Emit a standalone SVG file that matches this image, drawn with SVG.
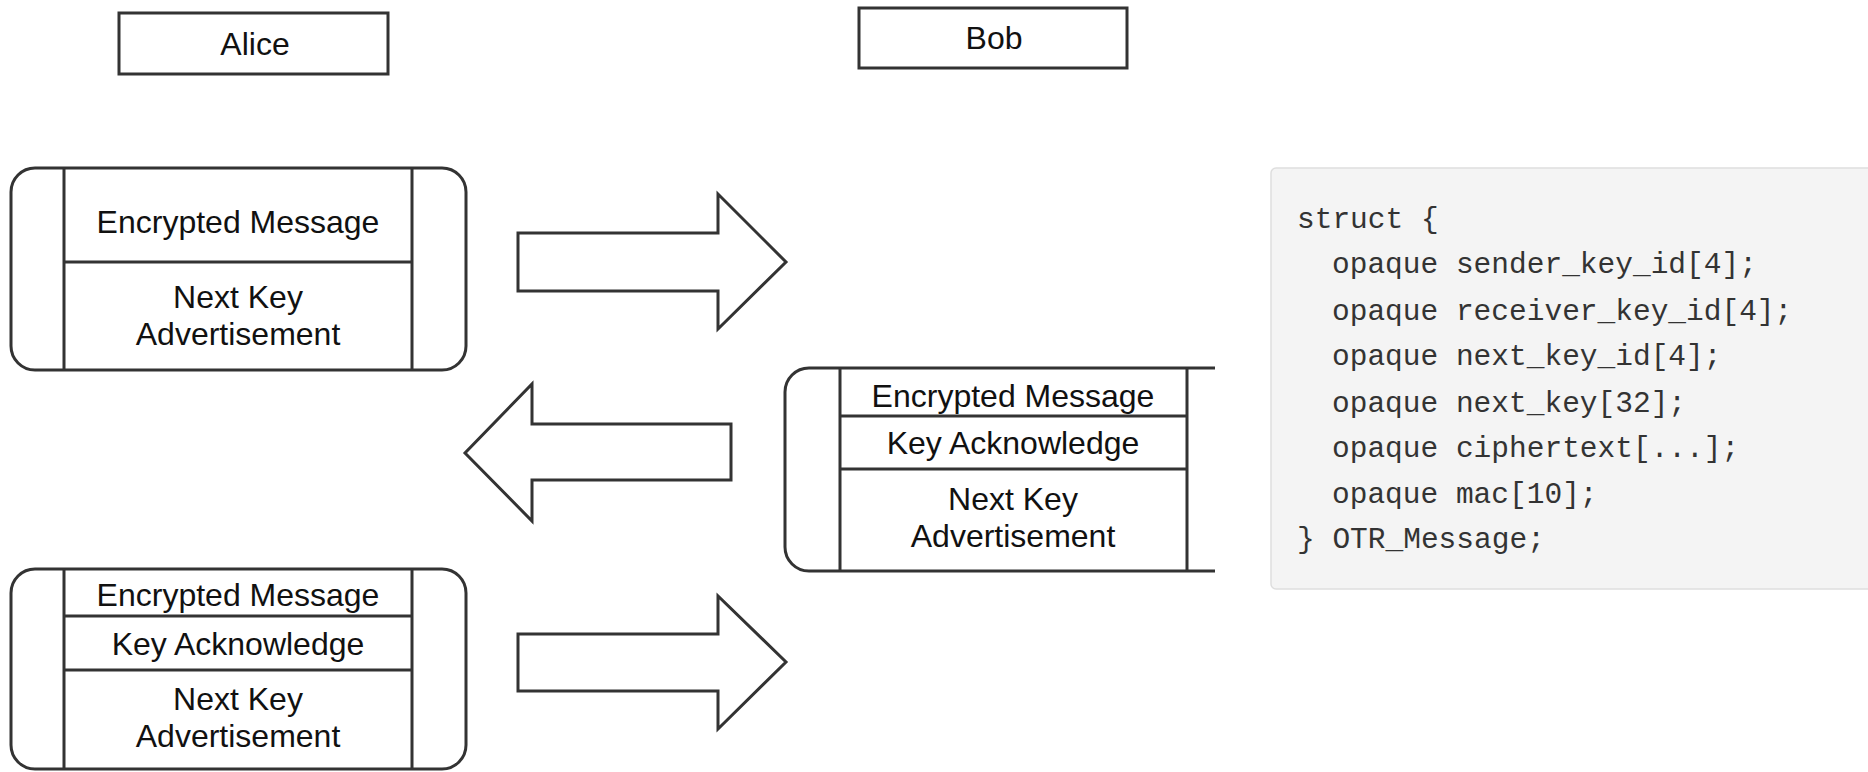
<svg xmlns="http://www.w3.org/2000/svg" width="1868" height="772" viewBox="0 0 1868 772">
<style>
.box{fill:#fff;stroke:#333;stroke-width:3}
.ln{fill:none;stroke:#333;stroke-width:3}
.arr{fill:#fff;stroke:#333;stroke-width:3;stroke-linejoin:miter}
.t{font-family:"Liberation Sans",Arial,sans-serif;font-size:32px;fill:#111;text-anchor:middle}
.code{font-family:"Liberation Mono","DejaVu Sans Mono",monospace;font-size:29.5px;fill:#333;white-space:pre}
</style>
<rect width="1868" height="772" fill="#fff"/>
<g id="alice">
<rect class="box" x="119" y="13" width="269" height="61"/>
<text class="t" x="255" y="55">Alice</text>
</g>
<g id="bob">
<rect class="box" x="859" y="8" width="268" height="60"/>
<text class="t" x="994" y="49">Bob</text>
</g>
<g id="msg1">
<rect class="box" x="11" y="168" width="455" height="202" rx="24"/>
<path class="ln" d="M64,168V370M412,168V370M64,262H412"/>
<text class="t" x="238" y="233">Encrypted Message</text>
<text class="t" x="238" y="308">Next Key</text>
<text class="t" x="238" y="345">Advertisement</text>
</g>
<g id="msg2">
<path class="box" d="M1215,368H809A24,24 0 0 0 785,392V547A24,24 0 0 0 809,571H1215"/>
<path class="ln" d="M840,368V571M1187,368V571M840,416H1187M840,469H1187"/>
<text class="t" x="1013" y="407">Encrypted Message</text>
<text class="t" x="1013" y="454">Key Acknowledge</text>
<text class="t" x="1013" y="510">Next Key</text>
<text class="t" x="1013" y="547">Advertisement</text>
</g>
<g id="msg3">
<rect class="box" x="11" y="569" width="455" height="200" rx="24"/>
<path class="ln" d="M64,569V769M412,569V769M64,616H412M64,670H412"/>
<text class="t" x="238" y="606">Encrypted Message</text>
<text class="t" x="238" y="655">Key Acknowledge</text>
<text class="t" x="238" y="710">Next Key</text>
<text class="t" x="238" y="747">Advertisement</text>
</g>
<g id="connectors">
<polygon class="arr" points="518,233 718,233 718,194 786,262 718,329 718,291 518,291"/>
<polygon class="arr" points="731,424 532,424 532,384 465,453 532,521 532,480 731,480"/>
<polygon class="arr" points="518,634 718,634 718,596 786,662 718,729 718,691 518,691"/>
</g>
<g id="code">
<rect x="1271" y="168" width="620" height="421" rx="5" fill="#f4f4f4" stroke="#dedede" stroke-width="1.5"/>
<text class="code" x="1297" y="228">struct {</text>
<text class="code" x="1332" y="273">opaque sender_key_id[4];</text>
<text class="code" x="1332" y="320">opaque receiver_key_id[4];</text>
<text class="code" x="1332" y="365">opaque next_key_id[4];</text>
<text class="code" x="1332" y="412">opaque next_key[32];</text>
<text class="code" x="1332" y="457">opaque ciphertext[...];</text>
<text class="code" x="1332" y="503">opaque mac[10];</text>
<text class="code" x="1297" y="548">} OTR_Message;</text>
</g>
</svg>
